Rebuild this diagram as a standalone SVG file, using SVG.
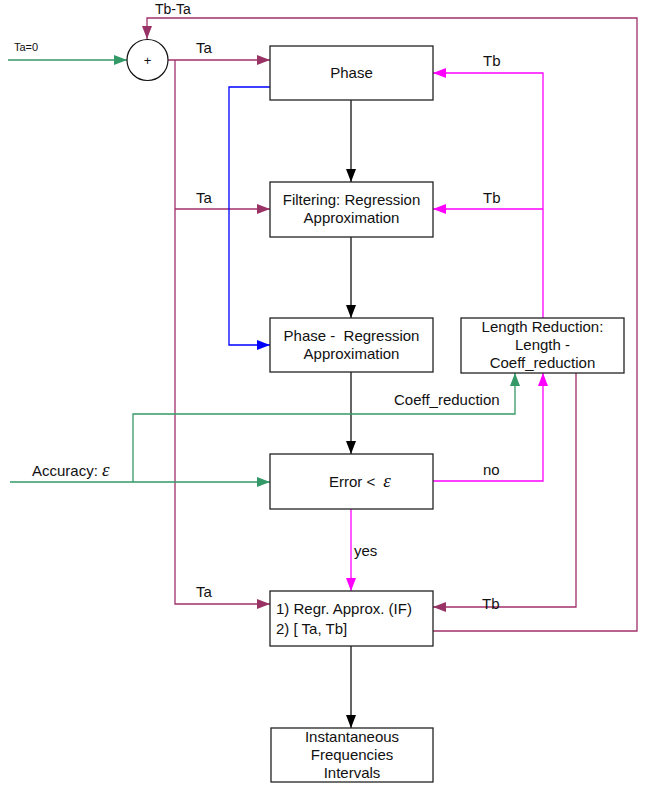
<svg xmlns="http://www.w3.org/2000/svg" width="645" height="786" viewBox="0 0 645 786">
<style>
.box{fill:#fff;stroke:#222;stroke-width:1.3}
.t{font-family:"Liberation Sans",Arial,sans-serif;font-size:15px;fill:#111;text-anchor:middle}
.l{font-family:"Liberation Sans",Arial,sans-serif;font-size:15px;fill:#111}
.eps{font-family:"Liberation Serif","Times New Roman",serif;font-style:italic;font-size:19px;fill:#111}
.c{fill:none;stroke-width:1.3}
.k{stroke:#111}
.m{stroke:#a0306a}
.p{stroke:#ff00ff}
.g{stroke:#339966}
.b{stroke:#0000ff}
</style>
<defs>
<marker id="ak" markerWidth="14" markerHeight="10" refX="13" refY="5" orient="auto" markerUnits="userSpaceOnUse"><path d="M0,0 L13,5 L0,10 z" fill="#000"/></marker>
<marker id="am" markerWidth="14" markerHeight="10" refX="13" refY="5" orient="auto" markerUnits="userSpaceOnUse"><path d="M0,0 L13,5 L0,10 z" fill="#993366"/></marker>
<marker id="ap" markerWidth="14" markerHeight="10" refX="13" refY="5" orient="auto" markerUnits="userSpaceOnUse"><path d="M0,0 L13,5 L0,10 z" fill="#ff00ff"/></marker>
<marker id="ag" markerWidth="14" markerHeight="10" refX="13" refY="5" orient="auto" markerUnits="userSpaceOnUse"><path d="M0,0 L13,5 L0,10 z" fill="#339966"/></marker>
<marker id="ab" markerWidth="14" markerHeight="10" refX="13" refY="5" orient="auto" markerUnits="userSpaceOnUse"><path d="M0,0 L13,5 L0,10 z" fill="#0000ff"/></marker>
</defs>
<g id="connectors">
<path class="c g" d="M8,60 H127" marker-end="url(#ag)"/>
<path class="c m" d="M433,631 H637 V18 H147 V39" marker-end="url(#am)"/>
<path class="c m" d="M168,60 H270" marker-end="url(#am)"/>
<path class="c m" d="M175,60 V604 H270" marker-end="url(#am)"/>
<path class="c m" d="M175,209 H270" marker-end="url(#am)"/>
<path class="c b" d="M270,87 H229 V345 H270" marker-end="url(#ab)"/>
<path class="c k" d="M351,100 V182" marker-end="url(#ak)"/>
<path class="c k" d="M351,237 V318" marker-end="url(#ak)"/>
<path class="c k" d="M351,372 V454" marker-end="url(#ak)"/>
<path class="c k" d="M351,646 V728" marker-end="url(#ak)"/>
<path class="c p" d="M433,481 H543 V373" marker-end="url(#ap)"/>
<path class="c p" d="M543,318 V73 H433" marker-end="url(#ap)"/>
<path class="c p" d="M543,209 H433" marker-end="url(#ap)"/>
<path class="c p" d="M351,509 V591" marker-end="url(#ap)"/>
<path class="c m" d="M576,373 V607 H433" marker-end="url(#am)"/>
<path class="c g" d="M10,482 H270" marker-end="url(#ag)"/>
<path class="c g" d="M133,482 V414 H515 V373" marker-end="url(#ag)"/>
<text class="l" x="155" y="14" style="font-size:14px">Tb-Ta</text>
<text class="l" x="14" y="51" style="font-size:11px">Ta=0</text>
<text class="l" x="196" y="53">Ta</text>
<text class="l" x="196" y="203">Ta</text>
<text class="l" x="196" y="597">Ta</text>
<text class="l" x="483" y="66">Tb</text>
<text class="l" x="483" y="203">Tb</text>
<text class="l" x="482" y="609">Tb</text>
<text class="l" x="394" y="405">Coeff_reduction</text>
<text class="l" x="483" y="475">no</text>
<text class="l" x="354" y="556">yes</text>
<text class="l" x="32" y="476">Accuracy: <tspan class="eps">ε</tspan></text>
</g>
<g id="sum"><circle cx="147.5" cy="60" r="20.5" fill="#fff" stroke="#111" stroke-width="1.2"/><text class="t" x="147.5" y="64.5" style="font-size:13px">+</text></g>
<g id="phase"><rect class="box" x="270" y="46" width="163" height="54"/><text class="t" x="351.5" y="78">Phase</text></g>
<g id="filtering"><rect class="box" x="270" y="182" width="163" height="55"/><text class="t" x="351.5" y="205">Filtering: Regression</text><text class="t" x="351.5" y="223">Approximation</text></g>
<g id="phasereg"><rect class="box" x="270" y="318" width="163" height="54"/><text class="t" x="351.5" y="341" style="white-space:pre">Phase -  Regression</text><text class="t" x="351.5" y="359">Approximation</text></g>
<g id="length"><rect class="box" x="461" y="318" width="163" height="55"/><text class="t" x="542.5" y="332">Length Reduction:</text><text class="t" x="542.5" y="350">Length -</text><text class="t" x="542.5" y="368">Coeff_reduction</text></g>
<g id="error"><rect class="box" x="270" y="454" width="163" height="55"/><text class="t" x="329" y="487" style="text-anchor:start">Error &lt;<tspan class="eps" dx="8">ε</tspan></text></g>
<g id="regr"><rect class="box" x="270" y="591" width="163" height="55"/><text class="t" x="276" y="614" style="text-anchor:start">1) Regr. Approx. (IF)</text><text class="t" x="276" y="634" style="text-anchor:start">2) [ Ta, Tb]</text></g>
<g id="inst"><rect class="box" x="271" y="728" width="162" height="54"/><text class="t" x="352" y="742">Instantaneous</text><text class="t" x="352" y="760">Frequencies</text><text class="t" x="352" y="778">Intervals</text></g>
</svg>
